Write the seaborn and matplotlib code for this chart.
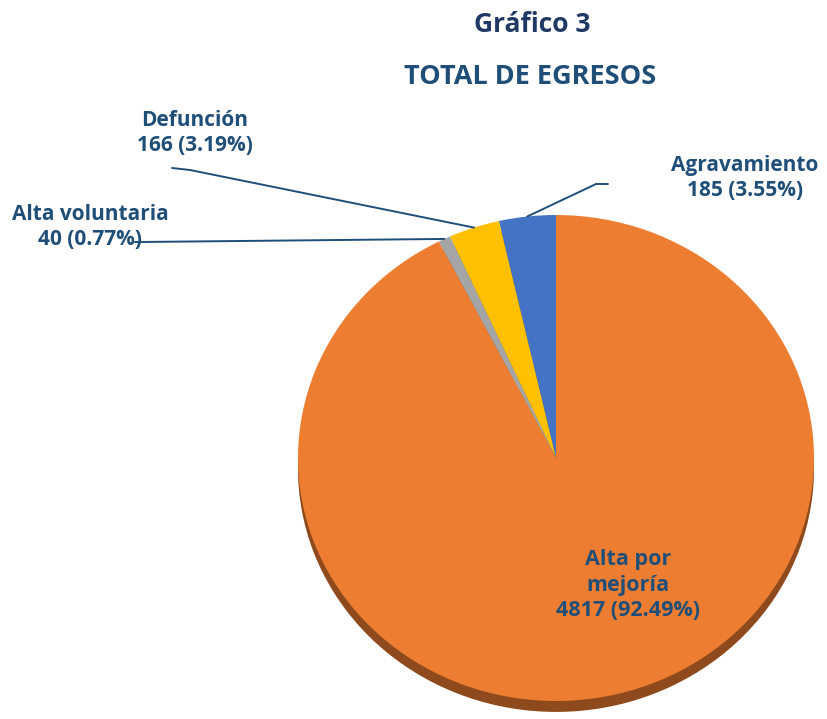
import numpy as np
import matplotlib.pyplot as plt
from matplotlib.lines import Line2D
import seaborn as sns

# Data (order: counterclockwise from the top)
labels = ["Agravamiento", "Defunción", "Alta voluntaria", "Alta por\nmejoría"]
values = [185, 166, 40, 4817]
percents = [3.55, 3.19, 0.77, 92.49]
colors = ["#4472C4", "#FFC000", "#A5A5A5", "#ED7D31"]
rim_colors = ["#2F4F8A", "#B38600", "#6E6E6E", "#8E4A1C"]

sns.set_style("white")
plt.rcParams["font.family"] = ["Open Sans", "DejaVu Sans"]

W, H = 828, 719
fig = plt.figure(figsize=(W / 100, H / 100), dpi=100)

# axes placed so the pie face spans x 298..814, y 215..701 (pixels)
ax = fig.add_axes([298 / W, (H - 701) / H, 516 / W, 486 / H])

# 3D rim under the face
ax.pie(values, colors=rim_colors, startangle=90, counterclock=True,
       center=(0, -0.045), wedgeprops=dict(linewidth=0))
wedges, _ = ax.pie(values, colors=colors, startangle=90, counterclock=True,
                   wedgeprops=dict(linewidth=0))
ax.set_aspect("auto")
ax.set_xlim(-1, 1)
ax.set_ylim(-1.0, 1.0)
ax.axis("off")

txt = "#1F4E79"

fig.text(532 / W, 1 - 25 / H, "Gráfico 3", ha="center", va="center",
         fontsize=19, fontweight="bold", color="#203864")
fig.text(530 / W, 1 - 77 / H, "TOTAL DE EGRESOS", ha="center", va="center",
         fontsize=19.5, fontweight="bold", color=txt)

# outside labels: (text centre px, line start px, elbow px)
outside = {
    0: ((745, 178), (608, 184), (596, 184)),
    1: ((195, 133), (172, 168), (190, 170)),
    2: ((90, 227), (135, 242), (140, 242)),
}
total = sum(values)
start = 90.0
mids = []
for v in values:
    span = v / total * 360
    mids.append(start + span / 2)
    start += span

for i, ((tx, ty), (lx, ly), (ex, ey)) in outside.items():
    fig.text(tx / W, 1 - ty / H, f"{labels[i]}\n{values[i]} ({percents[i]:.2f}%)",
             ha="center", va="center", fontsize=15, fontweight="bold",
             color=txt, linespacing=1.2)
    a = np.deg2rad(mids[i])
    ax.annotate("", xy=(np.cos(a), np.sin(a)), xycoords="data",
                xytext=(ex / W, 1 - ey / H), textcoords="figure fraction",
                arrowprops=dict(arrowstyle="-", color=txt, lw=1.4,
                                shrinkA=0, shrinkB=0),
                annotation_clip=False)
    fig.add_artist(Line2D([lx / W, ex / W], [1 - ly / H, 1 - ey / H],
                          transform=fig.transFigure, color=txt, lw=1.4))

# inside label of the big slice
fig.text(628 / W, 1 - 585 / H, f"{labels[3]}\n{values[3]} ({percents[3]:.2f}%)",
         ha="center", va="center", fontsize=15.5, fontweight="bold",
         color=txt, linespacing=1.25)

fig.savefig("out.png", dpi=100)
